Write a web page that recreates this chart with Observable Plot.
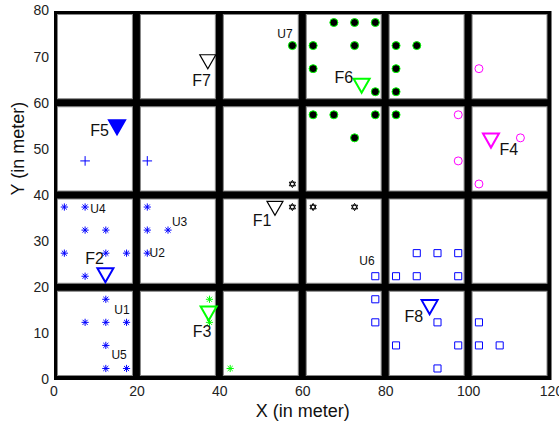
<!DOCTYPE html>
<html><head><meta charset="utf-8">
<script src="https://cdn.jsdelivr.net/npm/d3@7"></script>
<script src="https://cdn.jsdelivr.net/npm/@observablehq/plot@0.6"></script>
<style>body{margin:0;background:#fff}</style>
</head><body><div id="chart"></div>
<script>
// grid
const xEdges = [0, 20, 40, 60, 80, 100, 120];
const yEdges = [0, 20, 40, 60, 80];
const xTicks = [0, 20, 40, 60, 80, 100, 120];
const yTicks = [0, 10, 20, 30, 40, 50, 60, 70, 80];

// blue asterisks (U1..U5)
const blueStarX = [2.5, 7.5, 7.5, 12.5, 2.5, 12.5, 17.5, 7.5, 12.5, 7.5, 12.5, 17.5, 12.5, 12.5, 17.5, 22.5, 22.5, 27.5, 22.5];
const blueStarY = [37.5, 37.5, 32.5, 32.5, 27.5, 27.5, 27.5, 22.5, 17.5, 12.5, 12.5, 12.5, 7.5, 2.5, 2.5, 37.5, 32.5, 32.5, 27.5];
// green asterisks
const greenStarX = [37.5, 37.5, 42.5];
const greenStarY = [17.5, 12.5, 2.5];
// blue plus
const plusX = [7.5, 22.5];
const plusY = [47.5, 47.5];
// black hexagrams
const hexX = [57.5, 57.5, 62.5, 72.5];
const hexY = [42.5, 37.5, 37.5, 37.5];
// black dots with green edge (U7)
const dotX = [67.5, 72.5, 77.5, 57.5, 62.5, 72.5, 82.5, 87.5, 62.5, 82.5, 77.5, 82.5, 62.5, 67.5, 77.5, 82.5, 72.5];
const dotY = [77.5, 77.5, 77.5, 72.5, 72.5, 72.5, 72.5, 72.5, 67.5, 67.5, 62.5, 62.5, 57.5, 57.5, 57.5, 57.5, 52.5];
// magenta circles
const circX = [102.5, 97.5, 97.5, 112.5, 102.5];
const circY = [67.5, 57.5, 47.5, 52.5, 42.5];
// blue squares (U6)
const sqX = [87.5, 92.5, 97.5, 77.5, 82.5, 87.5, 97.5, 77.5, 77.5, 92.5, 102.5, 82.5, 97.5, 102.5, 107.5, 92.5];
const sqY = [27.5, 27.5, 27.5, 22.5, 22.5, 22.5, 22.5, 17.5, 12.5, 12.5, 12.5, 7.5, 7.5, 7.5, 7.5, 2.5];

// triangles F1..F8
const fName = ["F1", "F2", "F3", "F4", "F5", "F6", "F7", "F8"];
const fX = [53.3, 12.4, 37.3, 105.4, 15.2, 74.2, 37.1, 90.6];
const fY = [37.2, 22.7, 14.4, 51.9, 54.8, 63.8, 69.0, 15.8];
const fColor = ["black", "blue", "#00ff00", "#ff00ff", "blue", "#00ff00", "black", "blue"];
const fFilled = [false, false, false, false, true, false, false, false];
const fLabelX = [50.2, 9.8, 35.7, 109.7, 11.0, 69.9, 35.6, 86.8];
const fLabelY = [34.4, 26.3, 10.4, 49.9, 54.0, 65.6, 64.8, 13.6];

// U labels
const uName = ["U1", "U2", "U3", "U4", "U5", "U6", "U7"];
const uX = [16.4, 24.9, 30.3, 10.6, 15.7, 75.5, 55.7];
const uY = [15.1, 27.5, 34.2, 37.0, 5.3, 25.8, 74.9];

const zip = (xs, ys) => xs.map((x, i) => ({x, y: ys[i]}));
const cells = [];
for (let i = 0; i < xEdges.length - 1; i++)
  for (let j = 0; j < yEdges.length - 1; j++)
    cells.push({x1: xEdges[i], x2: xEdges[i + 1], y1: yEdges[j], y2: yEdges[j + 1]});
const tri = fName.map((n, i) => ({name: n, x: fX[i], y: fY[i], color: fColor[i], filled: fFilled[i], lx: fLabelX[i], ly: fLabelY[i]}));

const asterisk8 = {draw(c, size) {
  const r = Math.sqrt(size / Math.PI), d = r * Math.SQRT1_2;
  c.moveTo(-r, 0); c.lineTo(r, 0); c.moveTo(0, -r); c.lineTo(0, r);
  c.moveTo(-d, -d); c.lineTo(d, d); c.moveTo(-d, d); c.lineTo(d, -d);
}};
const hexagram = {draw(c, size) {
  const r = Math.sqrt(size / Math.PI);
  for (const off of [-90, 90]) {
    for (let k = 0; k < 3; k++) {
      const a = (off + k * 120) * Math.PI / 180;
      const px = r * Math.cos(a), py = r * Math.sin(a);
      if (k === 0) c.moveTo(px, py); else c.lineTo(px, py);
    }
    c.closePath();
  }
}};
const triDown = {draw(c, size) {
  const r = Math.sqrt(size / Math.PI), h = r * 0.875;
  c.moveTo(-r, -h); c.lineTo(r, -h); c.lineTo(0, h); c.closePath();
}};

const font = "'Liberation Sans', Arial, Helvetica, sans-serif";

const chart = Plot.plot({
  width: 559, height: 424,
  marginLeft: 53.5, marginRight: 8, marginTop: 10.5, marginBottom: 44.5,
  style: {fontFamily: font, fontSize: "14px", color: "#222", background: "white"},
  x: {domain: [0, 120], ticks: xTicks, tickSize: 0, tickPadding: 6, label: null},
  y: {domain: [0, 80], ticks: yTicks, tickSize: 0, tickPadding: 5, label: null},
  marks: [
    Plot.frame({fill: "black"}),
    Plot.rect(cells, {x1: "x1", x2: "x2", y1: "y1", y2: "y2", fill: "white", stroke: "#888", strokeWidth: 1, inset: 4}),
    Plot.dot(zip(blueStarX, blueStarY), {x: "x", y: "y", symbol: asterisk8, r: 3.6, stroke: "blue", strokeWidth: 1, fill: "none"}),
    Plot.dot(zip(greenStarX, greenStarY), {x: "x", y: "y", symbol: asterisk8, r: 3.6, stroke: "#00ff00", strokeWidth: 1, fill: "none"}),
    Plot.dot(zip(plusX, plusY), {x: "x", y: "y", symbol: "plus", r: 3.2, stroke: "blue", strokeWidth: 1, fill: "none"}),
    Plot.dot(zip(hexX, hexY), {x: "x", y: "y", symbol: hexagram, r: 3.6, stroke: "black", strokeWidth: 1, fill: "none"}),
    Plot.dot(zip(dotX, dotY), {x: "x", y: "y", symbol: "circle", r: 4, fill: "black", stroke: "#00ff00", strokeWidth: 1}),
    Plot.dot(zip(circX, circY), {x: "x", y: "y", symbol: "circle", r: 4, fill: "none", stroke: "#ff00ff", strokeWidth: 1}),
    Plot.dot(zip(sqX, sqY), {x: "x", y: "y", symbol: "square", r: 4, fill: "none", stroke: "blue", strokeWidth: 1}),
    Plot.dot(tri, {x: "x", y: "y", symbol: triDown, r: 8, stroke: "color", fill: d => d.filled ? d.color : "none",
      strokeWidth: d => (d.color === "black" ? 1.2 : 2)}),
    Plot.text(tri, {x: "lx", y: "ly", text: "name", fontSize: 16, fill: "#111"}),
    Plot.text(uName.map((n, i) => ({n, x: uX[i], y: uY[i]})), {x: "x", y: "y", text: "n", fontSize: 12, fill: "#111"}),
    Plot.text(["X (in meter)"], {frameAnchor: "bottom", dy: 31, lineAnchor: "middle", fontSize: 18, fill: "#111"}),
    Plot.text(["Y (in meter)"], {frameAnchor: "left", dx: -36, rotate: -90, lineAnchor: "middle", fontSize: 18, fill: "#111"})
  ]
});
document.getElementById("chart").appendChild(chart);
</script>
</body></html>
